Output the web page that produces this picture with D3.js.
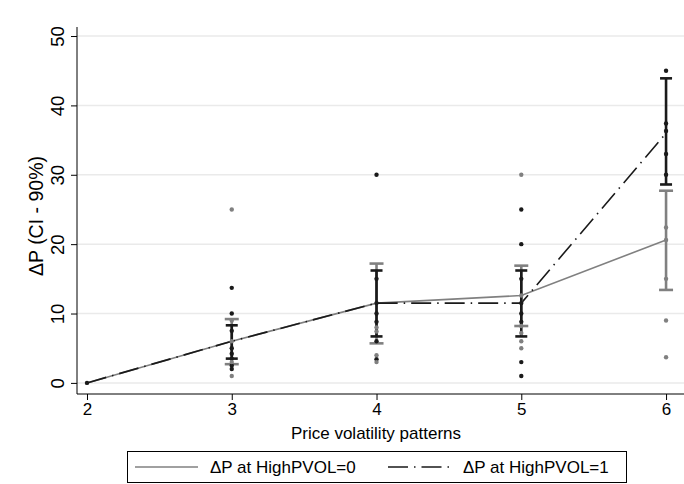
<!DOCTYPE html>
<html><head><meta charset="utf-8">
<script src="https://cdn.jsdelivr.net/npm/d3@7"></script>
<style>body{margin:0;background:#fff}svg{display:block;font-family:"Liberation Sans",Arial,sans-serif}</style>
</head><body><svg id="c" width="684" height="484"></svg>
<script>
const xCats = [2, 3, 4, 5, 6];
const yTicks = [0, 10, 20, 30, 40, 50];
const mean0 = [0, 6, 11.5, 12.6, 20.6];
const mean1 = [0, 6, 11.5, 11.5, 36];
const lo0 = [null, 2.7, 5.7, 8.2, 13.4];
const hi0 = [null, 9.2, 17.2, 16.9, 27.7];
const lo1 = [null, 3.5, 6.7, 6.7, 28.6];
const hi1 = [null, 8.3, 16.2, 16.2, 43.9];
const pts0 = [[3,25],[3,9],[3,6],[3,3],[3,1],[4,8],[4,7.4],[4,4],[4,3],[5,30],[5,12.6],[5,8.2],[5,7.2],[5,6],[5,5],[6,22.4],[6,20.6],[6,15],[6,9],[6,3.7]];
const pts1 = [[2,0],[3,13.7],[3,10],[3,7.5],[3,5],[3,4.2],[3,3.5],[3,2.5],[3,2],[4,30],[4,15],[4,11.5],[4,10],[4,8.8],[4,6],[4,3.4],[5,25],[5,20],[5,15],[5,11.5],[5,10],[5,8.8],[5,3],[5,1],[6,45],[6,37.4],[6,36.3],[6,33],[6,30]];
const legendLabels = ["ΔP at HighPVOL=0", "ΔP at HighPVOL=1"];
const xTitle = "Price volatility patterns";
const yTitle = "ΔP (CI - 90%)";

const C0 = "#808080", C1 = "#1a1a1a", FS = 17;
const svg = d3.select("#c");
const x = d3.scaleLinear().domain([1.931, 6.124]).range([77, 684]);
const y = d3.scaleLinear().domain([-1.6, 51.3]).range([394, 27]);

// grid
svg.append("g").selectAll("line").data(yTicks).join("line")
  .attr("x1", 77).attr("x2", 684).attr("y1", d => y(d)).attr("y2", d => y(d))
  .attr("stroke", "#eaeaea").attr("stroke-width", 1.5);

// axes
const ya = svg.append("g").attr("transform", "translate(77,0)")
  .call(d3.axisLeft(y).tickValues(yTicks).tickSize(6).tickPadding(0).tickFormat(d3.format("d")));
ya.select(".domain").attr("d", "M0,27V394").attr("stroke", "#000");
ya.selectAll(".tick line").attr("stroke", "#000");
ya.selectAll(".tick text").attr("font-size", 18.5).attr("font-family", "Liberation Sans, Arial")
  .attr("fill", "#000").attr("text-anchor", "middle").attr("dy", 0)
  .attr("transform", "translate(-13.5,0) rotate(-90)").attr("x", 0).attr("y", 0);

const xa = svg.append("g").attr("transform", "translate(0,394)")
  .call(d3.axisBottom(x).tickValues(xCats).tickSize(6).tickPadding(3).tickFormat(d3.format("d")));
xa.select(".domain").attr("d", "M77,0H684").attr("stroke", "#000");
xa.selectAll(".tick line").attr("stroke", "#000");
xa.selectAll(".tick text").attr("font-size", FS).attr("font-family", "Liberation Sans, Arial").attr("fill", "#000");

svg.append("text").attr("x", 376).attr("y", 439).attr("text-anchor", "middle")
  .attr("font-size", FS).text(xTitle);
svg.append("text").attr("transform", "translate(43,216) rotate(-90)").attr("text-anchor", "middle")
  .attr("font-size", 19.5).text(yTitle);

// lines
const line = d3.line().x((d, i) => x(xCats[i])).y(d => y(d));
svg.append("path").attr("d", line(mean0)).attr("fill", "none").attr("stroke", C0).attr("stroke-width", 1.6);
svg.append("path").attr("d", line(mean1)).attr("fill", "none").attr("stroke", C1).attr("stroke-width", 1.6)
  .attr("stroke-dasharray", "20,6,1.5,6");

// error bars
function bars(lo, hi, col, cap) {
  const g = svg.append("g").attr("stroke", col).attr("stroke-width", 2.6);
  xCats.forEach((c, i) => {
    if (lo[i] == null) return;
    g.append("line").attr("x1", x(c)).attr("x2", x(c)).attr("y1", y(lo[i])).attr("y2", y(hi[i]));
    [lo[i], hi[i]].forEach(v => g.append("line").attr("x1", x(c) - cap).attr("x2", x(c) + cap)
      .attr("y1", y(v)).attr("y2", y(v)));
  });
}
bars(lo0, hi0, C0, 7);
bars(lo1, hi1, C1, 6);

svg.append("g").selectAll("circle").data(pts1).join("circle")
  .attr("cx", d => x(d[0])).attr("cy", d => y(d[1])).attr("r", 2.2).attr("fill", C1);
svg.append("g").selectAll("circle").data(pts0).join("circle")
  .attr("cx", d => x(d[0])).attr("cy", d => y(d[1])).attr("r", 2.2).attr("fill", C0);

// legend
const lg = svg.append("g");
lg.append("rect").attr("x", 127.5).attr("y", 451.5).attr("width", 499).attr("height", 31)
  .attr("fill", "#fff").attr("stroke", "#000").attr("stroke-width", 1);
lg.append("line").attr("x1", 135).attr("x2", 198).attr("y1", 467).attr("y2", 467).attr("stroke", C0).attr("stroke-width", 1.6);
lg.append("text").attr("x", 210).attr("y", 473).attr("font-size", FS).text(legendLabels[0]);
lg.append("line").attr("x1", 388).attr("x2", 451).attr("y1", 467).attr("y2", 467).attr("stroke", C1).attr("stroke-width", 1.6)
  .attr("stroke-dasharray", "20,6,1.5,6");
lg.append("text").attr("x", 463).attr("y", 473).attr("font-size", FS).text(legendLabels[1]);
</script></body></html>
